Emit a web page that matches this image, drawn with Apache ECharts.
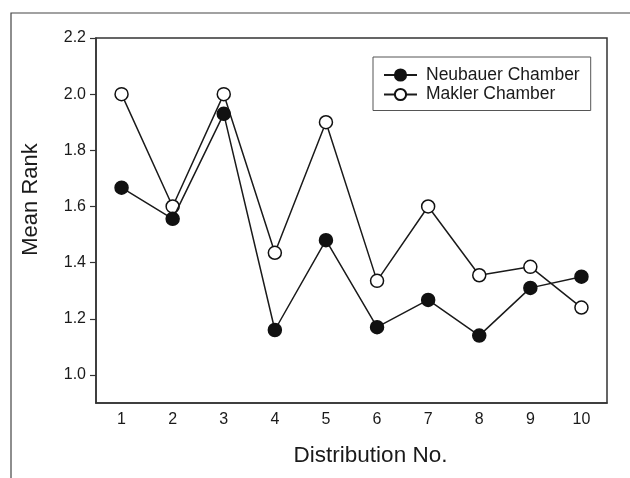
<!DOCTYPE html>
<html>
<head>
<meta charset="utf-8">
<script src="https://cdn.jsdelivr.net/npm/echarts@6/dist/echarts.min.js"></script>
<style>
  html, body { margin: 0; padding: 0; background: #fff; }
  #chart { width: 630px; height: 478px; }
</style>
</head>
<body>
<div id="chart"></div>
<script>
// distribution numbers along the x axis
const distributions = ['1', '2', '3', '4', '5', '6', '7', '8', '9', '10'];
// mean rank
const neubauer = [1.667, 1.556, 1.93, 1.16, 1.48, 1.17, 1.267, 1.14, 1.31, 1.35];
const makler = [2.0, 1.6, 2.0, 1.435, 1.9, 1.335, 1.6, 1.355, 1.385, 1.24];
const yTicks = [1.0, 1.2, 1.4, 1.6, 1.8, 2.0, 2.2];

const font = '"Liberation Sans", Arial, sans-serif';
const ink = '#1a1a1a';

const chart = echarts.init(document.getElementById('chart'));

chart.setOption({
    animation: false,
    backgroundColor: '#fff',
    graphic: [
        // outer frame of the figure (top and left edges only)
        {type: 'polyline', shape: {points: [[11, 478], [11, 13], [630, 13]]},
         style: {stroke: '#444', lineWidth: 1.2, fill: null}}
    ],
    grid: {
        left: 96, right: 23, top: 38, bottom: 75,
        show: true, borderColor: '#333', borderWidth: 1.5
    },
    legend: {
        orient: 'vertical',
        left: 373, top: 57,
        padding: [9, 11, 7, 10],
        itemGap: 1.5,
        itemWidth: 33, itemHeight: 14,
        borderColor: '#555', borderWidth: 1, backgroundColor: '#fff',
        textStyle: {fontFamily: font, fontSize: 17.5, color: ink, padding: [0, 0, 0, 4]},
        data: ['Neubauer Chamber', 'Makler Chamber']
    },
    xAxis: {
        type: 'category',
        data: distributions,
        boundaryGap: true,
        name: 'Distribution No.',
        nameLocation: 'middle',
        nameGap: 41,
        nameTextStyle: {fontFamily: font, fontSize: 22.5, color: ink, padding: [0, 0, 0, 38]},
        axisLine: {lineStyle: {color: '#333', width: 1.5}},
        axisTick: {alignWithLabel: true, length: 6, lineStyle: {color: '#333', width: 1.2}},
        axisLabel: {fontFamily: font, fontSize: 16, color: ink, margin: 9},
        splitLine: {show: false}
    },
    yAxis: {
        type: 'value',
        min: 0.9, max: 2.2,
        name: 'Mean Rank',
        nameLocation: 'middle',
        nameGap: 54,
        nameTextStyle: {fontFamily: font, fontSize: 22, color: ink, padding: [0, 0, 0, 42]},
        axisLine: {show: true, lineStyle: {color: '#333', width: 1.5}},
        axisTick: {show: true, length: 6, customValues: yTicks, lineStyle: {color: '#333', width: 1.2}},
        axisLabel: {fontFamily: font, fontSize: 16, color: ink, margin: 10,
                    customValues: yTicks, formatter: v => v.toFixed(1)},
        splitLine: {show: false}
    },
    series: [
        {
            name: 'Neubauer Chamber',
            type: 'line',
            data: neubauer,
            symbol: 'circle',
            symbolSize: 13,
            lineStyle: {color: ink, width: 1.5},
            itemStyle: {color: '#111', borderColor: '#111', borderWidth: 1.5},
            z: 3
        },
        {
            name: 'Makler Chamber',
            type: 'line',
            data: makler,
            symbol: 'circle',
            symbolSize: 13,
            lineStyle: {color: ink, width: 1.5},
            itemStyle: {color: '#fff', borderColor: '#111', borderWidth: 1.5},
            z: 2
        }
    ]
});
</script>
</body>
</html>
